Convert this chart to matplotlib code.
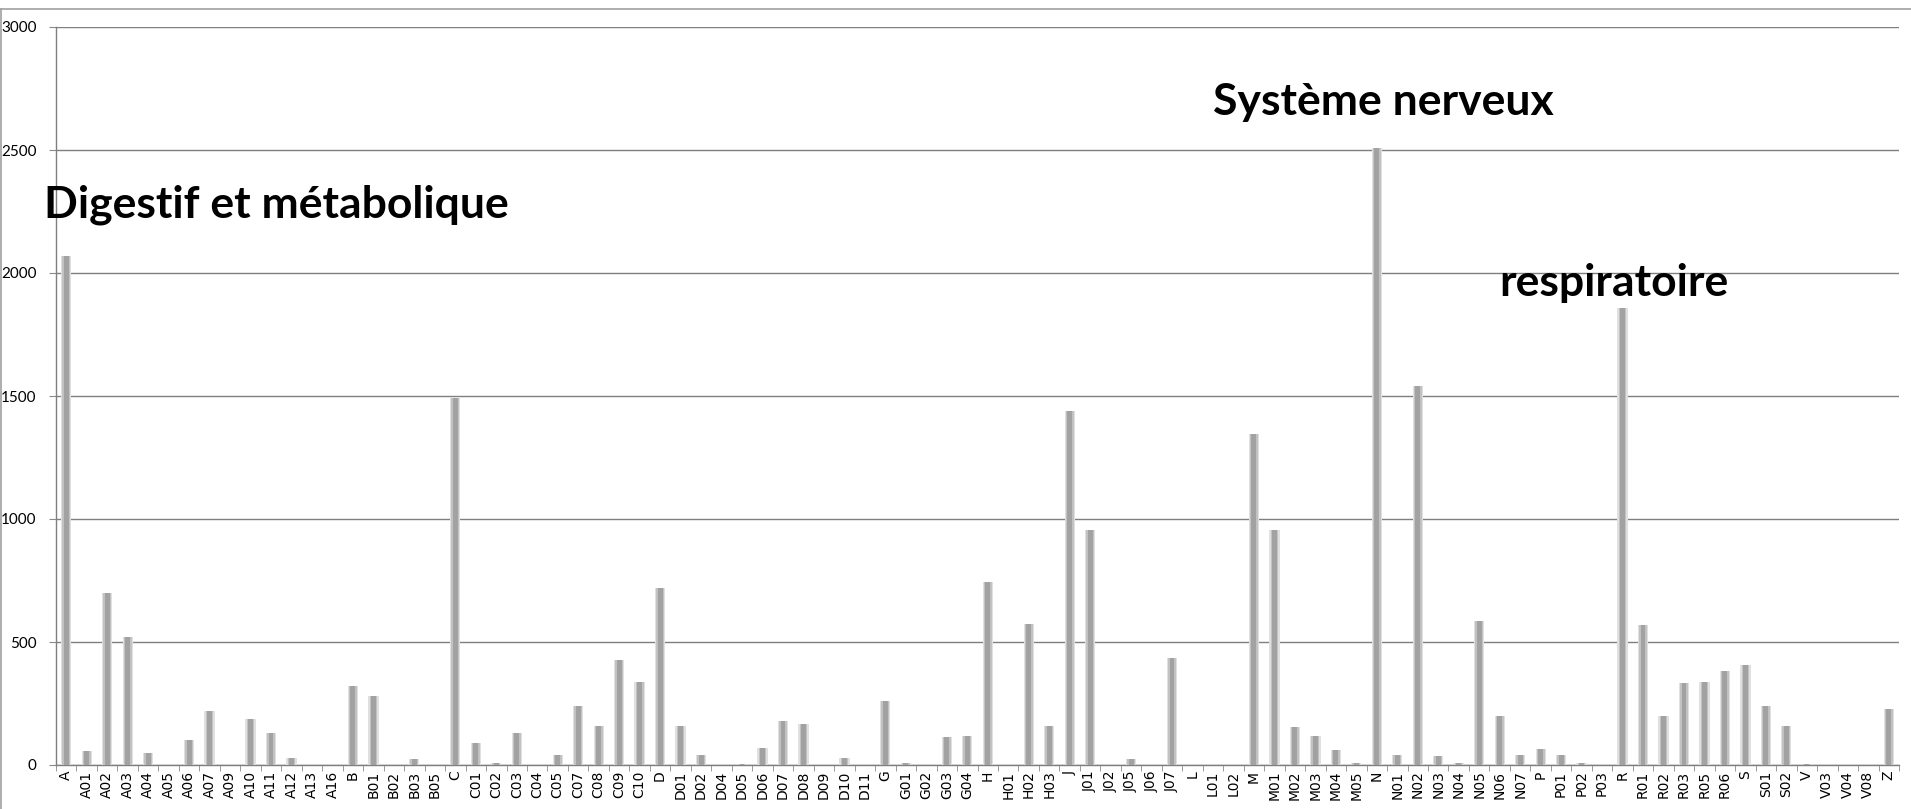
import matplotlib
matplotlib.use("Agg")
import matplotlib.pyplot as plt
from matplotlib.lines import Line2D
import numpy as np

categories = ["A", "A01", "A02", "A03", "A04", "A05", "A06", "A07", "A09", "A10",
              "A11", "A12", "A13", "A16", "B", "B01", "B02", "B03", "B05", "C",
              "C01", "C02", "C03", "C04", "C05", "C07", "C08", "C09", "C10", "D",
              "D01", "D02", "D04", "D05", "D06", "D07", "D08", "D09", "D10", "D11",
              "G", "G01", "G02", "G03", "G04", "H", "H01", "H02", "H03", "J",
              "J01", "J02", "J05", "J06", "J07", "L", "L01", "L02", "M", "M01",
              "M02", "M03", "M04", "M05", "N", "N01", "N02", "N03", "N04", "N05",
              "N06", "N07", "P", "P01", "P02", "P03", "R", "R01", "R02", "R03",
              "R05", "R06", "S", "S01", "S02", "V", "V03", "V04", "V08", "Z"]

values = [2070, 55, 700, 520, 50, 0, 100, 218, 0, 188,
          129, 30, 0, 0, 322, 282, 0, 25, 0, 1490,
          89, 10, 129, 0, 40, 238, 158, 426, 337, 718,
          158, 40, 0, 5, 69, 178, 168, 0, 30, 0,
          262, 10, 0, 114, 119, 743, 0, 574, 158, 1441,
          955, 0, 25, 0, 436, 0, 0, 0, 1347, 955,
          153, 119, 59, 10, 2510, 40, 1540, 35, 10, 584,
          198, 40, 64, 40, 10, 0, 1856, 569, 198, 332,
          337, 381, 406, 238, 158, 5, 0, 0, 0, 228]

yticks = [0, 500, 1000, 1500, 2000, 2500, 3000]

annotations = [("Digestif et métabolique", -1.1, 2276),
               ("Système nerveux", 56.0, 2695),
               ("respiratoire", 70.0, 1959)]

W, H = 1911, 809
fig = plt.figure(figsize=(W / 100, H / 100), dpi=100)
ax = fig.add_axes([56 / W, 1 - 765 / H, (1899 - 56) / W, (765 - 27) / H])

x = np.arange(len(categories))
ax.bar(x, values, width=0.50, color="#e0e0e0", zorder=3)
ax.bar(x, values, width=0.38, color="#c2c2c2", zorder=4)
ax.bar(x, values, width=0.24, color="#a2a2a2", zorder=5)

ax.set_xlim(-0.5, len(categories) - 0.5)
ax.set_ylim(0, 3000)
ax.set_yticks(yticks)
ax.set_yticklabels([str(v) for v in yticks], fontsize=11, family="Lato")
ax.yaxis.grid(True, color="#7f7f7f", linewidth=1.0, zorder=1)
ax.set_axisbelow(True)

ax.set_xticks(x)
ax.set_xticklabels(categories, rotation=90, fontsize=10, family="DejaVu Sans")
ax.set_xticks(np.arange(-0.5, len(categories), 1.0), minor=True)
ax.tick_params(axis="x", which="major", length=0, pad=4)
ax.tick_params(axis="x", which="minor", length=4, color="#8a8a8a")
ax.tick_params(axis="y", length=5, color="#8a8a8a", pad=9)

for s in ["top", "right"]:
    ax.spines[s].set_visible(False)
for s in ["left", "bottom"]:
    ax.spines[s].set_color("#7f7f7f")
    ax.spines[s].set_linewidth(1.0)

for txt, tx, ty in annotations:
    ax.text(tx, ty, txt, fontsize=32, fontweight="bold", family="Lato",
            ha="left", va="center", zorder=6, clip_on=False)

fig.add_artist(Line2D([1 / W, 1 / W], [0, 1 - 9 / H], transform=fig.transFigure,
                      color="#a0a0a0", linewidth=1.2))
fig.add_artist(Line2D([1 / W, 1], [1 - 9 / H, 1 - 9 / H], transform=fig.transFigure,
                      color="#a0a0a0", linewidth=1.2))

fig.savefig("out.png", dpi=100)
